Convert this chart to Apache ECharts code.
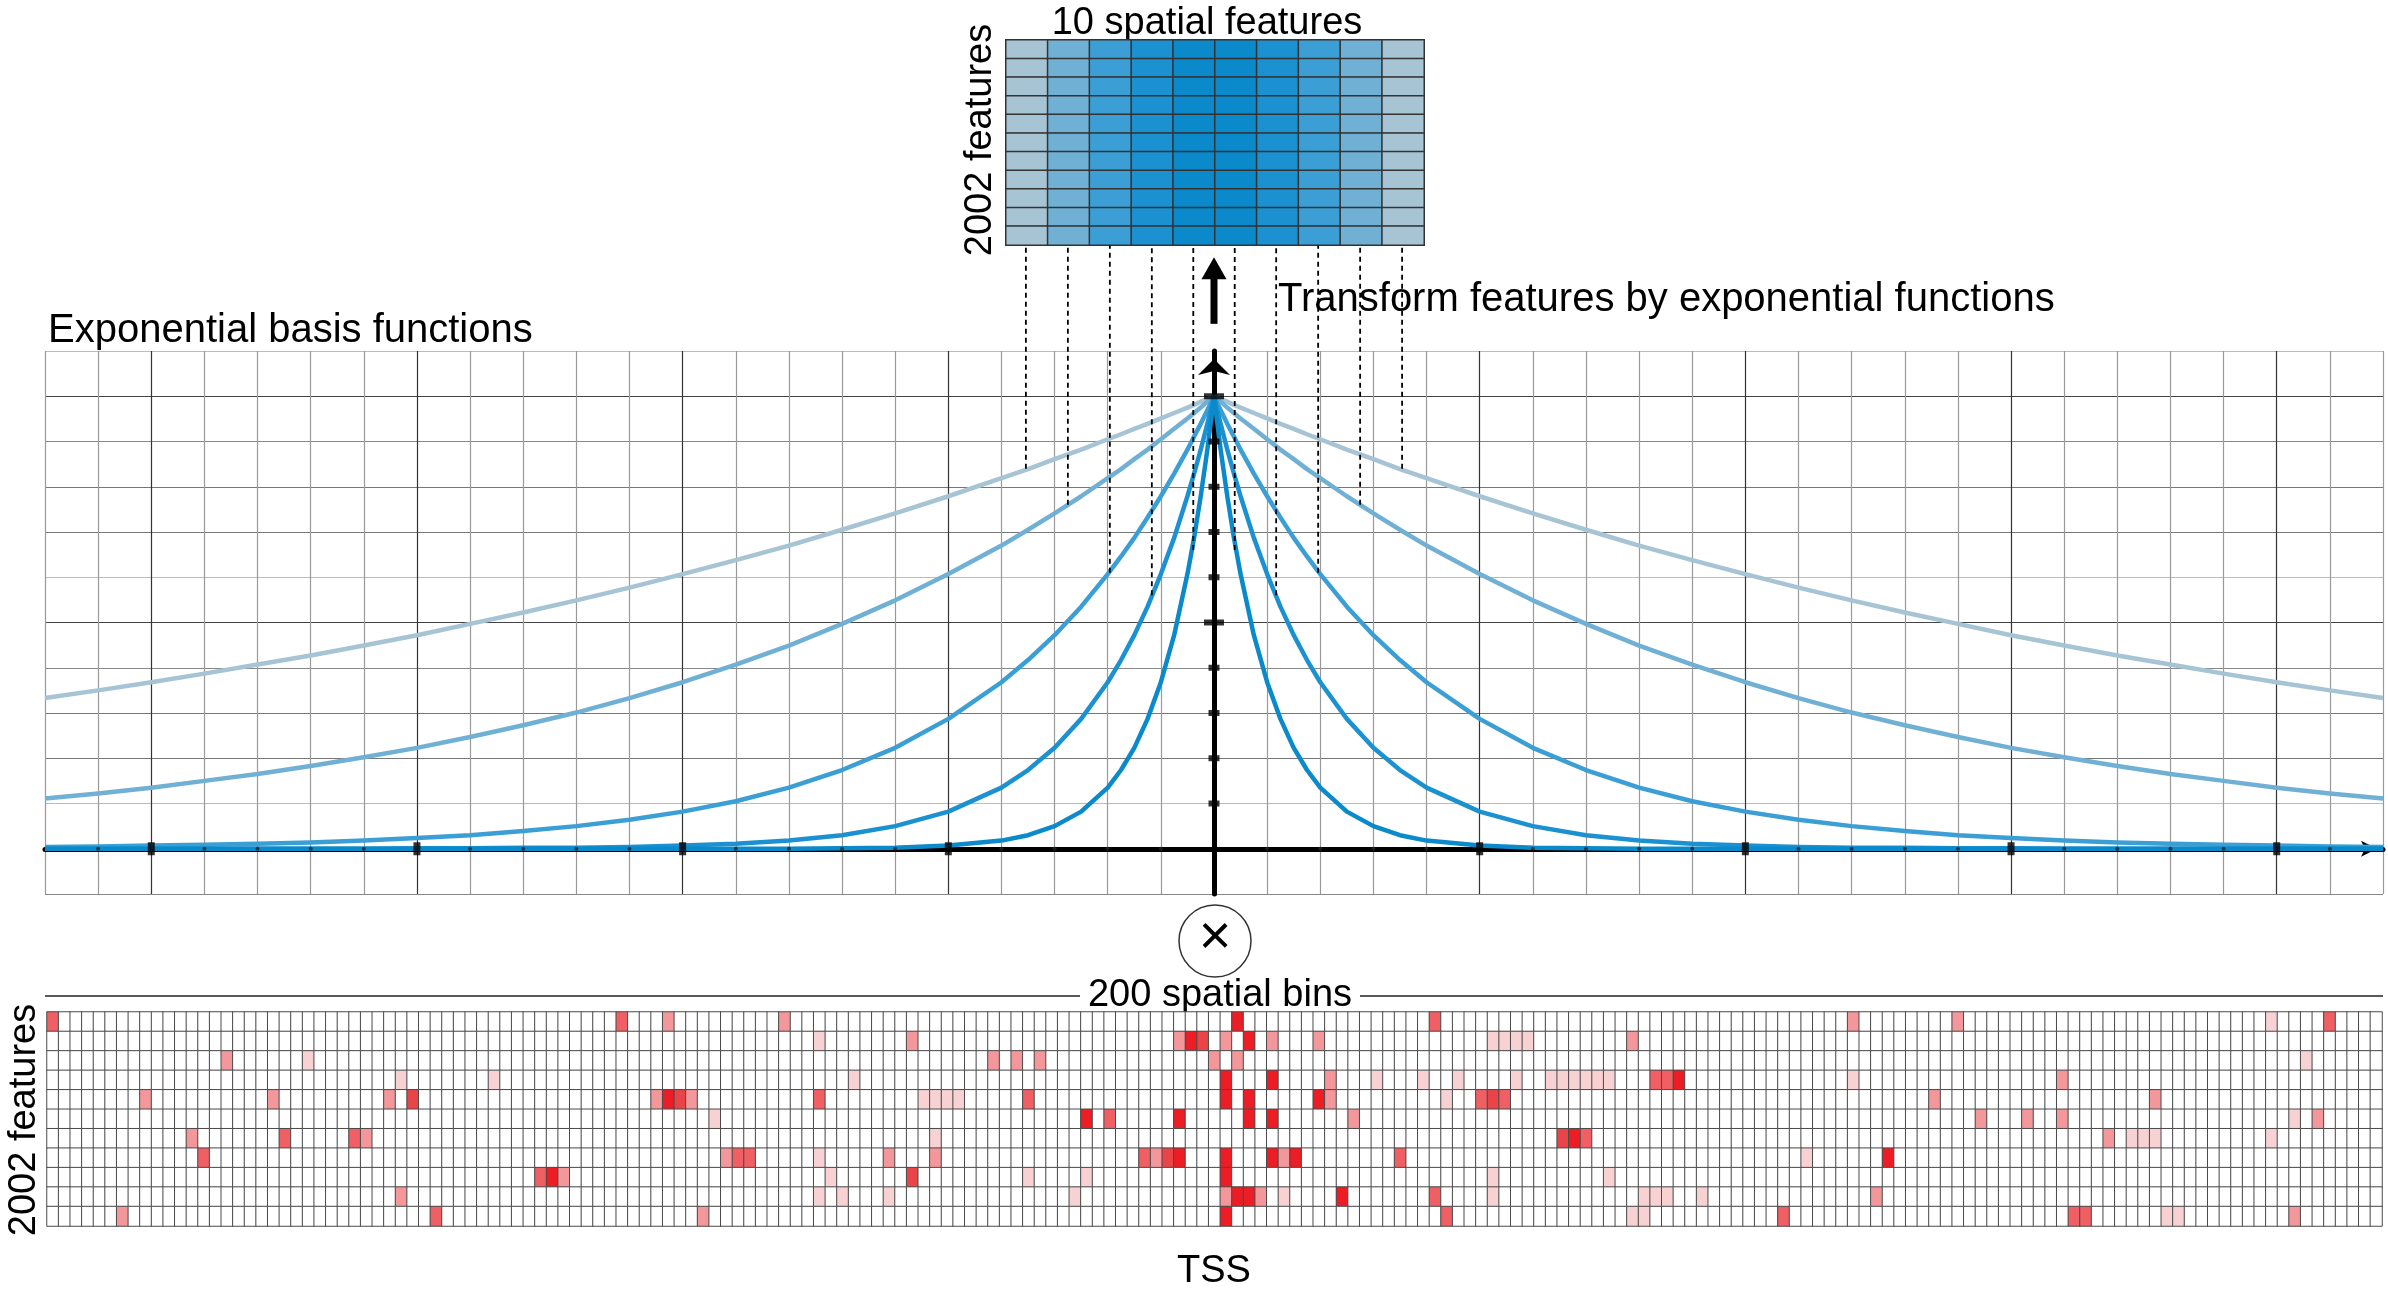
<!DOCTYPE html>
<html>
<head>
<meta charset="utf-8">
<script src="https://cdn.jsdelivr.net/npm/echarts@6/dist/echarts.min.js"></script>
<style>
  html, body { margin: 0; padding: 0; background: #fff; }
  #chart { width: 2388px; height: 1303px; }
</style>
</head>
<body>
<div id="chart"></div>
<script>
// positions along the TSS axis where the curves were read (left half; right half is the mirror)
const sampleX = [-22, -21, -20, -19, -18, -17, -16, -15, -14, -13, -12, -11, -10, -9, -8, -7, -6, -5, -4,
  -3.5, -3, -2.5, -2, -1.75, -1.5, -1.25, -1, -0.75, -0.5, -0.375, -0.25, -0.125, 0]

// basis function heights at sampleX, widest first
const decay20 = [0.333, 0.350, 0.368, 0.387, 0.407, 0.427, 0.449, 0.472, 0.497, 0.522, 0.549, 0.577, 0.607, 0.638, 0.670, 0.705, 0.741, 0.779, 0.819,
  0.839, 0.861, 0.882, 0.905, 0.916, 0.928, 0.939, 0.951, 0.963, 0.975, 0.981, 0.988, 0.994, 1]
const decay10 = [0.111, 0.122, 0.135, 0.150, 0.165, 0.183, 0.202, 0.223, 0.247, 0.273, 0.301, 0.333, 0.368, 0.407, 0.449, 0.497, 0.549, 0.607, 0.670,
  0.705, 0.741, 0.779, 0.819, 0.839, 0.861, 0.882, 0.905, 0.928, 0.951, 0.963, 0.975, 0.988, 1]
const decay4 = [0.004, 0.005, 0.007, 0.009, 0.011, 0.014, 0.018, 0.024, 0.030, 0.039, 0.050, 0.064, 0.082, 0.105, 0.135, 0.174, 0.223, 0.287, 0.368,
  0.417, 0.472, 0.535, 0.607, 0.646, 0.687, 0.732, 0.779, 0.829, 0.882, 0.911, 0.939, 0.969, 1]
const decay2 = [0, 0, 0, 0, 0, 0, 0, 0.001, 0.001, 0.002, 0.002, 0.004, 0.007, 0.011, 0.018, 0.030, 0.050, 0.082, 0.135,
  0.174, 0.223, 0.287, 0.368, 0.417, 0.472, 0.535, 0.607, 0.687, 0.779, 0.829, 0.882, 0.939, 1]
const decay1 = [0, 0, 0, 0, 0, 0, 0, 0, 0, 0, 0, 0, 0, 0, 0, 0.001, 0.002, 0.007, 0.018,
  0.030, 0.050, 0.082, 0.135, 0.174, 0.223, 0.287, 0.368, 0.472, 0.607, 0.687, 0.779, 0.882, 1]

const curves = [decay20, decay10, decay4, decay2, decay1]
const curveColors = ['#a6c4d4', '#70b0d4', '#3b9fd5', '#1b91d2', '#0a89cb']

// 10 spatial features: which curve each column uses (1 = widest)
const featureLevel = [1, 2, 3, 4, 5, 5, 4, 3, 2, 1]
const featureRows = 11

// dashed guides from each feature column down to its curve
const dashX = [-3.54, -2.75, -1.96, -1.17, -0.39, 0.39, 1.17, 1.96, 2.75, 3.54]
const dashEnd = [0.84, 0.76, 0.61, 0.56, 0.66, 0.66, 0.56, 0.61, 0.76, 0.84]
const dashTop = 1.333

const xMajorTicks = [-20, -15, -10, -5, 5, 10, 15, 20]
const yMinorTicks = [0.1, 0.2, 0.3, 0.4, 0.6, 0.7, 0.8, 0.9]
const yMajorTicks = [0.5, 1.0]

// 201 spatial bins x 11 feature rows, only coloured cells listed: [bin, intensity 1..5]
const binCount = 201
const bins0 = [[0, 3], [49, 3], [53, 2], [63, 2], [102, 5], [119, 3], [155, 2], [164, 2], [191, 1], [196, 3]]
const bins1 = [[66, 1], [74, 2], [97, 2], [98, 5], [99, 4], [101, 2], [103, 5], [105, 2], [109, 2], [124, 1], [125, 1], [126, 1], [127, 1], [136, 2]]
const bins2 = [[15, 2], [22, 1], [81, 2], [83, 2], [85, 2], [100, 2], [102, 2], [194, 1]]
const bins3 = [[30, 1], [38, 1], [69, 1], [101, 5], [105, 5], [110, 2], [114, 1], [118, 1], [121, 1], [126, 1], [129, 1], [130, 1], [131, 1], [132, 1], [133, 1], [134, 1], [138, 3], [139, 3], [140, 5], [155, 1], [173, 2]]
const bins4 = [[8, 2], [19, 2], [29, 2], [31, 4], [52, 2], [53, 5], [54, 4], [55, 2], [66, 3], [75, 1], [76, 1], [77, 1], [78, 1], [84, 3], [101, 5], [103, 5], [109, 5], [110, 2], [120, 1], [123, 3], [124, 4], [125, 3], [162, 2], [181, 2]]
const bins5 = [[57, 1], [89, 5], [91, 3], [97, 5], [103, 5], [105, 5], [112, 2], [166, 2], [170, 2], [173, 2], [193, 1], [195, 2]]
const bins6 = [[12, 2], [20, 3], [26, 3], [27, 2], [76, 1], [130, 4], [131, 5], [132, 3], [177, 2], [179, 1], [180, 1], [181, 1], [191, 1]]
const bins7 = [[13, 3], [58, 2], [59, 3], [60, 3], [66, 1], [72, 2], [76, 2], [94, 3], [95, 2], [96, 4], [97, 5], [101, 5], [105, 5], [106, 2], [107, 5], [116, 3], [151, 1], [158, 5]]
const bins8 = [[42, 3], [43, 5], [44, 2], [67, 1], [74, 4], [84, 1], [89, 1], [101, 5], [124, 1], [134, 1]]
const bins9 = [[30, 2], [66, 1], [68, 1], [72, 1], [88, 1], [101, 2], [102, 5], [103, 5], [104, 2], [106, 1], [111, 5], [119, 3], [124, 1], [137, 1], [138, 1], [139, 1], [142, 1], [157, 2]]
const bins10 = [[6, 2], [33, 3], [56, 2], [101, 5], [120, 3], [136, 1], [137, 1], [149, 3], [174, 3], [175, 3], [182, 1], [183, 1], [193, 2]]
const binRows = [bins0, bins1, bins2, bins3, bins4, bins5, bins6, bins7, bins8, bins9, bins10]
const redColors = ['#ffffff', '#f8d1d3', '#f4979a', '#ef5f63', '#e94448', '#ec1d25']

const font = '"Liberation Sans", Arial, sans-serif'

const chart = echarts.init(document.getElementById('chart'))

// top matrix cells
const featureCells = []
featureLevel.forEach((lvl, c) => {
  for (let r = 0; r < featureRows; r++) featureCells.push([c, r, lvl])
})

// bottom matrix cells, white unless listed
const binCells = []
binRows.forEach((row, r) => {
  const hot = {}
  row.forEach(([b, v]) => { hot[b] = v })
  for (let b = 0; b < binCount; b++) binCells.push([b, r, hot[b] || 0])
})

const featureCats = featureLevel.map((_, i) => String(i))
const rowCats = Array.from({ length: featureRows }, (_, i) => String(i))
const binCats = Array.from({ length: binCount }, (_, i) => String(i))
const minorTicks = Array.from({ length: 43 }, (_, i) => i - 21).filter(x => x !== 0 && xMajorTicks.indexOf(x) < 0)

const hidden = { show: false }

const series = [
  {
    type: 'heatmap',
    xAxisIndex: 0,
    yAxisIndex: 0,
    data: featureCells,
    itemStyle: { borderColor: '#333', borderWidth: 1.5 },
    emphasis: { disabled: true }
  },
  {
    type: 'heatmap',
    xAxisIndex: 2,
    yAxisIndex: 2,
    data: binCells,
    itemStyle: { borderColor: '#4a4a4a', borderWidth: 1 },
    emphasis: { disabled: true }
  }
]

// exponential curves, left and right half of each
curves.forEach((vals, k) => {
  const common = {
    type: 'line',
    xAxisIndex: 1,
    yAxisIndex: 1,
    showSymbol: false,
    smooth: false,
    lineStyle: { color: curveColors[k], width: 4.5, join: 'round' },
    itemStyle: { color: curveColors[k] },
    z: 3
  }
  series.push(Object.assign({}, common, { data: sampleX.map((x, i) => [x, vals[i]]) }))
  series.push(Object.assign({}, common, { data: sampleX.map((x, i) => [-x, vals[i]]) }))
})

// dashed guides
dashX.forEach((x, i) => {
  series.push({
    type: 'line',
    xAxisIndex: 1,
    yAxisIndex: 1,
    showSymbol: false,
    clip: false,
    data: [[x, dashEnd[i]], [x, dashTop]],
    lineStyle: { color: '#000', width: 1.8, type: [5, 4] },
    z: 4
  })
})

// transform arrow between the basis plot and the feature matrix
series.push({
  type: 'line',
  xAxisIndex: 1,
  yAxisIndex: 1,
  clip: false,
  symbol: 'none',
  data: [[0, 1.16], { value: [0, 1.283], symbol: 'triangle', symbolSize: [25, 22] }],
  lineStyle: { color: '#000', width: 7 },
  itemStyle: { color: '#000' },
  z: 5
})

// tick marks on the axes
series.push({
  type: 'scatter',
  xAxisIndex: 1,
  yAxisIndex: 1,
  symbol: 'rect',
  symbolSize: [7, 13],
  data: xMajorTicks.map(x => [x, 0]),
  itemStyle: { color: '#000' },
  z: 6
})
series.push({
  type: 'scatter',
  xAxisIndex: 1,
  yAxisIndex: 1,
  symbol: 'circle',
  symbolSize: 4,
  data: minorTicks.map(x => [x, 0]),
  itemStyle: { color: '#222' },
  z: 6
})
series.push({
  type: 'scatter',
  xAxisIndex: 1,
  yAxisIndex: 1,
  symbol: 'rect',
  symbolSize: [11, 6],
  data: yMinorTicks.map(y => [0, y]),
  itemStyle: { color: '#000' },
  z: 6
})
series.push({
  type: 'scatter',
  xAxisIndex: 1,
  yAxisIndex: 1,
  symbol: 'rect',
  symbolSize: [20, 6],
  data: yMajorTicks.map(y => [0, y]),
  itemStyle: { color: '#000' },
  z: 6
})

const textStyle = (text, extra) => Object.assign({
  text: text,
  fill: '#000',
  font: '38px ' + font,
  verticalAlign: 'middle'
}, extra)

const option = {
  animation: false,
  backgroundColor: '#fff',
  grid: [
    { left: 1006, top: 40, width: 418, height: 205 },
    { left: 45, top: 351, width: 2338, height: 543 },
    { left: 47, top: 1012, width: 2335, height: 214 }
  ],
  xAxis: [
    { type: 'category', gridIndex: 0, data: featureCats, axisLine: hidden, axisTick: hidden, axisLabel: hidden, splitLine: hidden },
    {
      type: 'value',
      gridIndex: 1,
      min: -22,
      max: 22,
      interval: 1,
      axisLine: {
        onZero: true,
        symbol: ['none', 'arrow'],
        symbolSize: [12, 16],
        symbolOffset: [0, -6],
        lineStyle: { color: '#000', width: 5 }
      },
      axisTick: hidden,
      axisLabel: hidden,
      splitLine: { show: true, lineStyle: { color: ['#999', '#999', '#333', '#999', '#999'], width: 1.2 } }
    },
    { type: 'category', gridIndex: 2, data: binCats, axisLine: hidden, axisTick: hidden, axisLabel: hidden, splitLine: hidden }
  ],
  yAxis: [
    { type: 'category', gridIndex: 0, data: rowCats, inverse: true, axisLine: hidden, axisTick: hidden, axisLabel: hidden, splitLine: hidden },
    {
      type: 'value',
      gridIndex: 1,
      min: -0.1,
      max: 1.1,
      interval: 0.1,
      axisLine: {
        onZero: true,
        symbol: ['none', 'arrow'],
        symbolSize: [24, 16],
        symbolOffset: [0, -8],
        lineStyle: { color: '#000', width: 5 }
      },
      axisTick: hidden,
      axisLabel: hidden,
      splitLine: { show: true, lineStyle: { color: ['#888', '#444', '#bbb', '#777', '#777'], width: 1.2 } }
    },
    { type: 'category', gridIndex: 2, data: rowCats, inverse: true, axisLine: hidden, axisTick: hidden, axisLabel: hidden, splitLine: hidden }
  ],
  visualMap: [
    {
      type: 'piecewise',
      show: false,
      seriesIndex: 0,
      dimension: 2,
      pieces: featureLevel.slice(0, 5).map((lvl, i) => ({ value: lvl, color: curveColors[i] }))
    },
    {
      type: 'piecewise',
      show: false,
      seriesIndex: 1,
      dimension: 2,
      pieces: redColors.map((c, i) => ({ value: i, color: c }))
    }
  ],
  graphic: [
    { type: 'text', x: 1207, y: 24, style: textStyle('10 spatial features', { align: 'center' }) },
    { type: 'text', x: 981, y: 140, rotation: Math.PI / 2, style: textStyle('2002 features', { align: 'center' }) },
    { type: 'text', x: 48, y: 331, style: textStyle('Exponential basis functions', { align: 'left', font: '40px ' + font }) },
    { type: 'text', x: 1278, y: 300, style: textStyle('Transform features by exponential functions', { align: 'left', font: '40px ' + font }) },
    { type: 'circle', shape: { cx: 1215, cy: 941, r: 36 }, style: { fill: '#fff', stroke: '#333', lineWidth: 1.5 } },
    { type: 'text', x: 1215, y: 939, style: textStyle('×', { align: 'center', font: '56px ' + font }) },
    { type: 'line', shape: { x1: 45, y1: 996, x2: 1080, y2: 996 }, style: { stroke: '#222', lineWidth: 1.5 } },
    { type: 'line', shape: { x1: 1360, y1: 996, x2: 2383, y2: 996 }, style: { stroke: '#222', lineWidth: 1.5 } },
    { type: 'text', x: 1220, y: 996, style: textStyle('200 spatial bins', { align: 'center' }) },
    { type: 'text', x: 25, y: 1120, rotation: Math.PI / 2, style: textStyle('2002 features', { align: 'center' }) },
    { type: 'text', x: 1214, y: 1272, style: textStyle('TSS', { align: 'center' }) }
  ],
  series: series
}

chart.setOption(option)
</script>
</body>
</html>
